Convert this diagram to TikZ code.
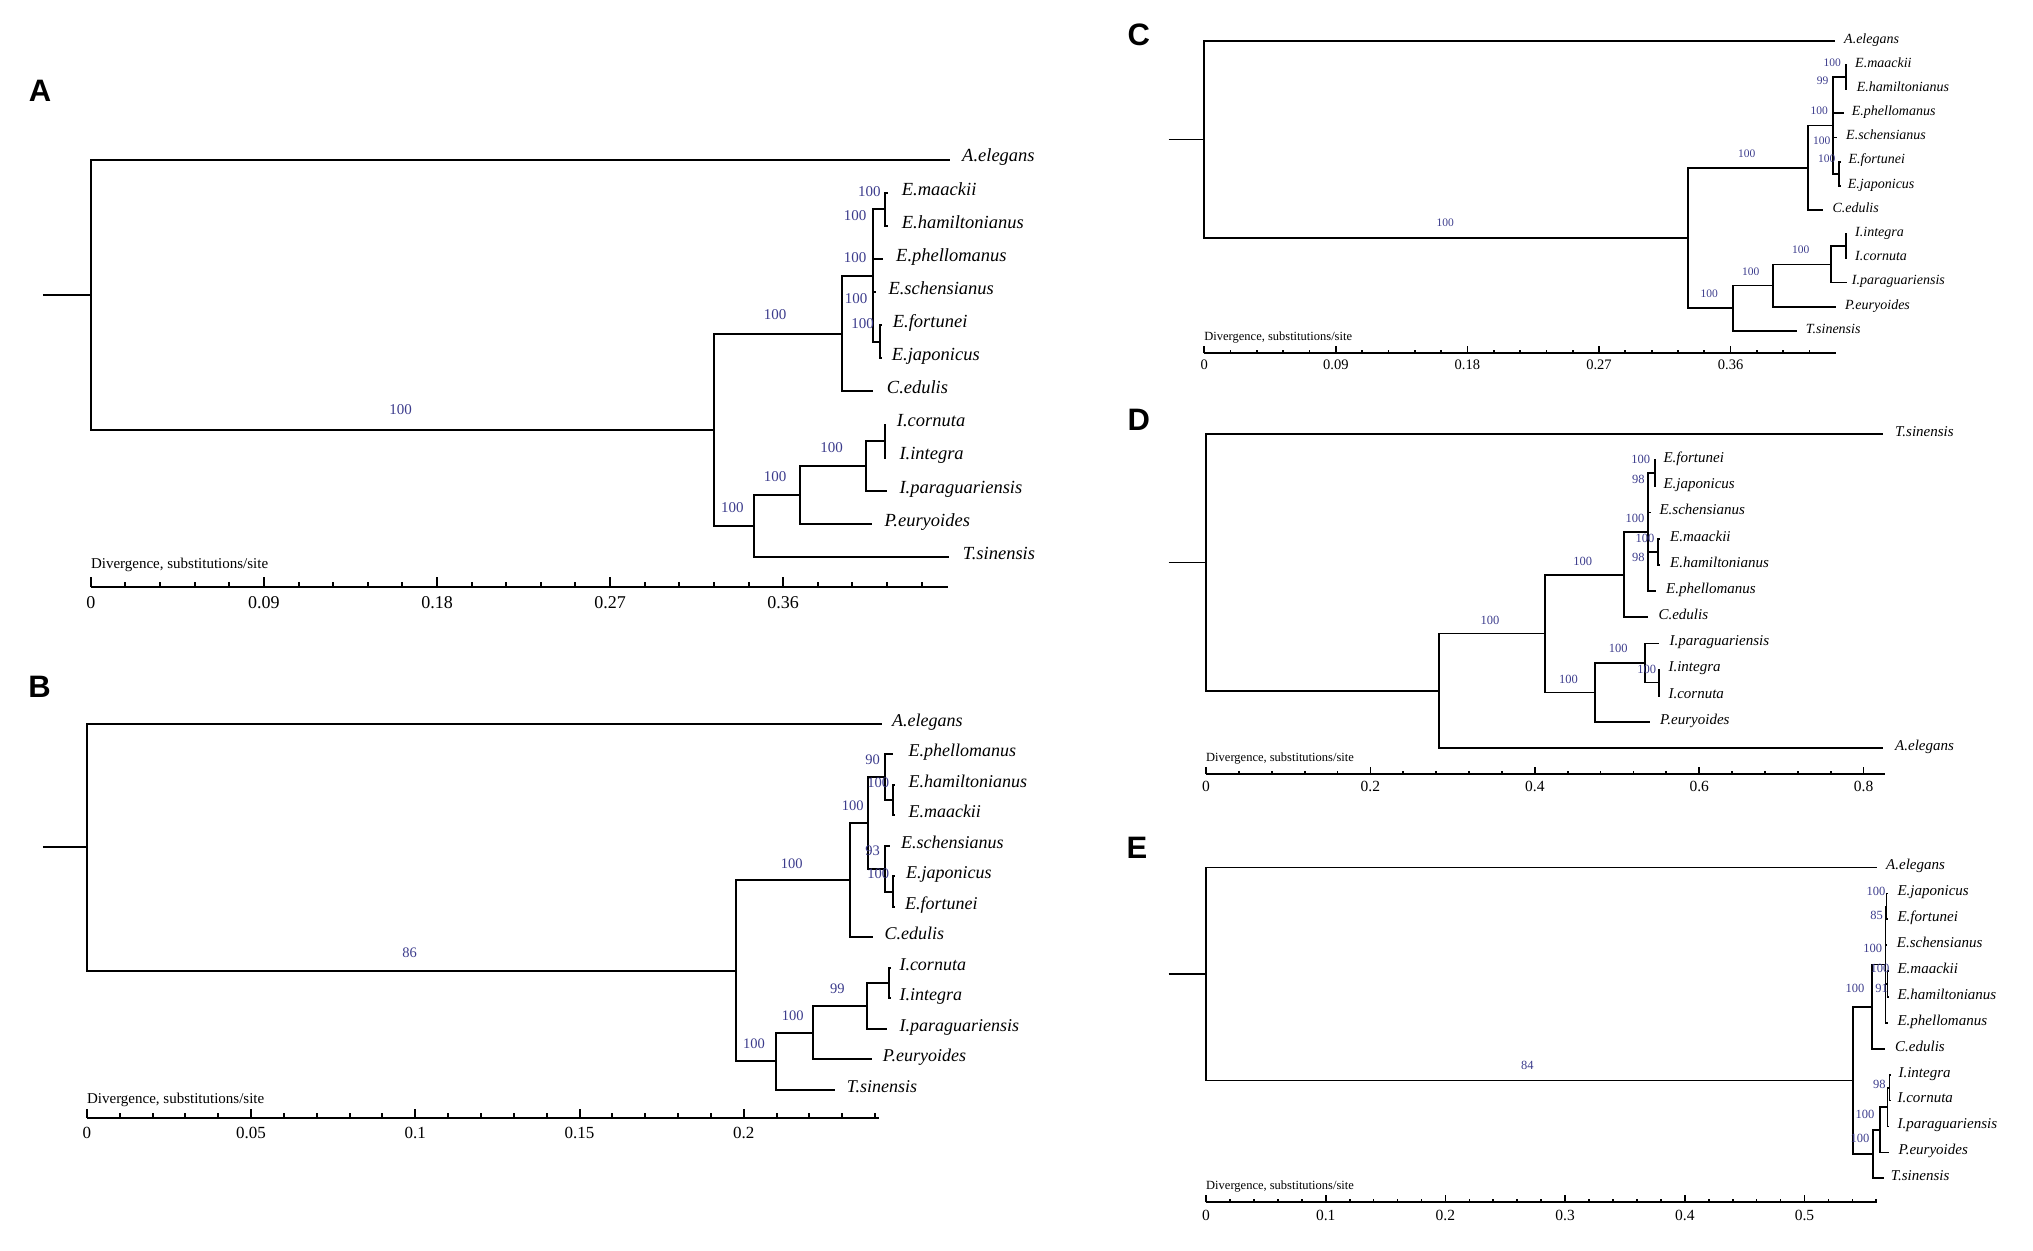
\documentclass[tikz,border=0pt]{standalone}
\usepackage{fontspec}
\setmainfont{Liberation Serif}
\newfontfamily\panelfont{Liberation Sans}
\definecolor{bsblue}{RGB}{60,60,140}
\newcommand{\tipnode}[6]{\coordinate (#1) at (#2,#3); \node[#6] (#1-l) at (#4,#3) {#5};}
\begin{document}
\begin{tikzpicture}[x=1pt,y=-1pt,
  panel/.style={font=\panelfont\bfseries\fontsize{31}{31}\selectfont, inner sep=0pt},
  brA/.style={line width=2pt},
  brC/.style={line width=1.7pt},
  tipA/.style={font=\fontsize{18.5}{20}\selectfont\itshape, anchor=mid west, inner sep=0pt},
  tipB/.style={font=\fontsize{18}{20}\selectfont\itshape, anchor=mid west, inner sep=0pt},
  tipC/.style={font=\fontsize{14}{16}\selectfont\itshape, anchor=mid west, inner sep=0pt},
  tipD/.style={font=\fontsize{15}{17}\selectfont\itshape, anchor=mid west, inner sep=0pt},
  bsA/.style={font=\fontsize{15}{16}\selectfont, text=bsblue, inner sep=0pt},
  bsB/.style={font=\fontsize{14.5}{16}\selectfont, text=bsblue, inner sep=0pt},
  bsC/.style={font=\fontsize{11.5}{13}\selectfont, text=bsblue, inner sep=0pt},
  bsD/.style={font=\fontsize{12.5}{14}\selectfont, text=bsblue, inner sep=0pt},
  axA/.style={font=\fontsize{15}{16}\selectfont, anchor=mid west, inner sep=0pt},
  axC/.style={font=\fontsize{12.5}{14}\selectfont, anchor=mid west, inner sep=0pt},
  tkA/.style={font=\fontsize{18}{20}\selectfont, inner sep=0pt},
  tkB/.style={font=\fontsize{17}{19}\selectfont, inner sep=0pt},
  tkC/.style={font=\fontsize{14.5}{16}\selectfont, inner sep=0pt},
  tkD/.style={font=\fontsize{15.5}{17}\selectfont, inner sep=0pt}]
\useasboundingbox (0,0) rectangle (2033,1250);

% ================= Panel A =================
\node[panel] (labA) at (40,91.3) {A};
\coordinate (A-S) at (42.8,294.7);
\coordinate (A-R) at (90.8,294.7);
\coordinate (A-N1) at (714,429.7);
\coordinate (A-N2) at (841.7,333.5);
\coordinate (A-E) at (872.7,275.55);
\coordinate (A-MH) at (885,209.35);
\coordinate (A-FJ) at (880,341.75);
\coordinate (A-N3) at (754,525.9);
\coordinate (A-N4) at (800,494.85);
\coordinate (A-N5) at (866,465.9);
\coordinate (A-N6) at (885,441.05);
\tipnode{A-t0}{950.4}{159.7}{962}{A.elegans}{tipA}
\tipnode{A-t1}{887.5}{192.8}{901.7}{E.maackii}{tipA}
\tipnode{A-t2}{887.5}{225.9}{901.7}{E.hamiltonianus}{tipA}
\tipnode{A-t3}{883.3}{259.0}{896}{E.phellomanus}{tipA}
\tipnode{A-t4}{875.5}{292.1}{888.3}{E.schensianus}{tipA}
\tipnode{A-t5}{881.5}{325.2}{892.7}{E.fortunei}{tipA}
\tipnode{A-t6}{881.5}{358.3}{891.7}{E.japonicus}{tipA}
\tipnode{A-t7}{873.3}{391.4}{886.7}{C.edulis}{tipA}
\tipnode{A-t8}{886}{424.5}{896.7}{I.cornuta}{tipA}
\tipnode{A-t9}{886}{457.6}{899.3}{I.integra}{tipA}
\tipnode{A-t10}{886.7}{490.7}{899.3}{I.paraguariensis}{tipA}
\tipnode{A-t11}{871.7}{523.8}{884.3}{P.euryoides}{tipA}
\tipnode{A-t12}{949.3}{556.9}{962.7}{T.sinensis}{tipA}
\draw[brA] (A-S) -- (A-R)
  (A-R) |- (A-t0) (A-R) |- (A-N1)
  (A-N1) |- (A-N2) (A-N1) |- (A-N3)
  (A-N2) |- (A-E) (A-N2) |- (A-t7)
  (A-E) |- (A-MH) (A-E) |- (A-t3) (A-E) |- (A-t4) (A-E) |- (A-FJ)
  (A-MH) |- (A-t1) (A-MH) |- (A-t2)
  (A-FJ) |- (A-t5) (A-FJ) |- (A-t6)
  (A-N3) |- (A-N4) (A-N3) |- (A-t12)
  (A-N4) |- (A-N5) (A-N4) |- (A-t11)
  (A-N5) |- (A-N6) (A-N5) |- (A-t10)
  (A-N6) |- (A-t8) (A-N6) |- (A-t9);
\node[bsA] (A-b1) at (400.6,409.7) {100};
\node[bsA] (A-b2) at (775,315) {100};
\node[bsA] (A-b3) at (869.3,191.7) {100};
\node[bsA] (A-b4) at (855,216) {100};
\node[bsA] (A-b5) at (855,257.3) {100};
\node[bsA] (A-b6) at (856,298.3) {100};
\node[bsA] (A-b7) at (862.7,324) {100};
\node[bsA] (A-b8) at (831.7,447.3) {100};
\node[bsA] (A-b9) at (775,476.7) {100};
\node[bsA] (A-b10) at (732.3,507.3) {100};
\node[axA] (A-dv) at (90.8,566.6) {Divergence, substitutions/site};
\coordinate (A-a0) at (90.8,587.4);
\coordinate (A-a1) at (948,587.4);
\draw[brA] (A-a0) -- (A-a1);
\foreach \i in {0,...,24}{\pgfmathsetmacro{\xx}{90.8+34.62*\i}\pgfmathsetmacro{\tl}{ifthenelse(mod(\i,5)==0,10,5)}\draw[brA] (\xx,587.4) -- ++(0,-\tl);}
\node[tkA] (A-x0) at (90.8,603) {0};
\node[tkA] (A-x1) at (263.9,603) {0.09};
\node[tkA] (A-x2) at (437,603) {0.18};
\node[tkA] (A-x3) at (610.1,603) {0.27};
\node[tkA] (A-x4) at (783.2,603) {0.36};

% ================= Panel B =================
\node[panel] (labB) at (39.5,687) {B};
\coordinate (B-S) at (42.8,847.2);
\coordinate (B-R) at (86.9,847.2);
\coordinate (B-N1) at (735.7,970.65);
\coordinate (B-N2) at (850,880.1);
\coordinate (B-E) at (867.7,822.9);
\coordinate (B-PHM) at (885,777.2);
\coordinate (B-HM) at (893.3,800.05);
\coordinate (B-SJF) at (885,868.7);
\coordinate (B-JF) at (893.3,891.55);
\coordinate (B-N3) at (776,1061.2);
\coordinate (B-N4) at (813.3,1032.6);
\coordinate (B-N5) at (866.7,1005.9);
\coordinate (B-N6) at (889.3,983.05);
\tipnode{B-t0}{881.7}{723.8}{892}{A.elegans}{tipB}
\tipnode{B-t1}{892.7}{754.3}{908.3}{E.phellomanus}{tipB}
\tipnode{B-t2}{895}{784.8}{908.3}{E.hamiltonianus}{tipB}
\tipnode{B-t3}{895}{815.3}{908.3}{E.maackii}{tipB}
\tipnode{B-t4}{890}{845.8}{901}{E.schensianus}{tipB}
\tipnode{B-t5}{895}{876.3}{906}{E.japonicus}{tipB}
\tipnode{B-t6}{895}{906.8}{905}{E.fortunei}{tipB}
\tipnode{B-t7}{873.3}{937.3}{884.3}{C.edulis}{tipB}
\tipnode{B-t8}{890.5}{967.8}{899.3}{I.cornuta}{tipB}
\tipnode{B-t9}{890.5}{998.3}{899.3}{I.integra}{tipB}
\tipnode{B-t10}{886.7}{1028.8}{899.3}{I.paraguariensis}{tipB}
\tipnode{B-t11}{871.7}{1059.3}{882.7}{P.euryoides}{tipB}
\tipnode{B-t12}{835}{1089.8}{846.7}{T.sinensis}{tipB}
\draw[brA] (B-S) -- (B-R)
  (B-R) |- (B-t0) (B-R) |- (B-N1)
  (B-N1) |- (B-N2) (B-N1) |- (B-N3)
  (B-N2) |- (B-E) (B-N2) |- (B-t7)
  (B-E) |- (B-PHM) (B-E) |- (B-SJF)
  (B-PHM) |- (B-t1) (B-PHM) |- (B-HM)
  (B-HM) |- (B-t2) (B-HM) |- (B-t3)
  (B-SJF) |- (B-t4) (B-SJF) |- (B-JF)
  (B-JF) |- (B-t5) (B-JF) |- (B-t6)
  (B-N3) |- (B-N4) (B-N3) |- (B-t12)
  (B-N4) |- (B-N5) (B-N4) |- (B-t11)
  (B-N5) |- (B-N6) (B-N5) |- (B-t10)
  (B-N6) |- (B-t8) (B-N6) |- (B-t9);
\node[bsB] (B-b1) at (409.7,953) {86};
\node[bsB] (B-b2) at (791.7,863.3) {100};
\node[bsB] (B-b3) at (872.7,760) {90};
\node[bsB] (B-b4) at (878.3,782.7) {100};
\node[bsB] (B-b5) at (852.7,806) {100};
\node[bsB] (B-b6) at (872.7,850.7) {93};
\node[bsB] (B-b7) at (878.3,874) {100};
\node[bsB] (B-b8) at (837.3,988.3) {99};
\node[bsB] (B-b9) at (792.7,1016) {100};
\node[bsB] (B-b10) at (754,1043.3) {100};
\node[axA] (B-dv) at (86.9,1101.5) {Divergence, substitutions/site};
\coordinate (B-a0) at (86.9,1117.7);
\coordinate (B-a1) at (879,1117.7);
\draw[brA] (B-a0) -- (B-a1);
\foreach \i in {0,...,24}{\pgfmathsetmacro{\xx}{86.9+32.84*\i}\pgfmathsetmacro{\tl}{ifthenelse(mod(\i,5)==0,9,4.5)}\draw[brA] (\xx,1117.7) -- ++(0,-\tl);}
\node[tkB] (B-x0) at (86.9,1133) {0};
\node[tkB] (B-x1) at (251.1,1133) {0.05};
\node[tkB] (B-x2) at (415.3,1133) {0.1};
\node[tkB] (B-x3) at (579.5,1133) {0.15};
\node[tkB] (B-x4) at (743.7,1133) {0.2};

% ================= Panel C =================
\node[panel] (labC) at (1138.8,34.7) {C};
\coordinate (C-S) at (1168.5,139.4);
\coordinate (C-R) at (1204.2,139.4);
\coordinate (C-N1) at (1688.3,238.05);
\coordinate (C-N2) at (1808.3,167.8);
\coordinate (C-E) at (1833.3,125.45);
\coordinate (C-MH) at (1845.7,77.1);
\coordinate (C-FJ) at (1839,173.8);
\coordinate (C-N3) at (1732.7,308.3);
\coordinate (C-N4) at (1772.7,285.6);
\coordinate (C-N5) at (1831,264.45);
\coordinate (C-N6) at (1846,246.3);
\tipnode{C-t0}{1835}{40.8}{1844}{A.elegans}{tipC}
\tipnode{C-t1}{1847}{65}{1855}{E.maackii}{tipC}
\tipnode{C-t2}{1847}{89.2}{1856.7}{E.hamiltonianus}{tipC}
\tipnode{C-t3}{1844.3}{113.3}{1851.7}{E.phellomanus}{tipC}
\tipnode{C-t4}{1836.5}{137.5}{1846}{E.schensianus}{tipC}
\tipnode{C-t5}{1840.5}{161.7}{1848.3}{E.fortunei}{tipC}
\tipnode{C-t6}{1840.5}{185.9}{1847.7}{E.japonicus}{tipC}
\tipnode{C-t7}{1822.7}{210.1}{1832.3}{C.edulis}{tipC}
\tipnode{C-t8}{1847}{234.2}{1855}{I.integra}{tipC}
\tipnode{C-t9}{1847}{258.4}{1855}{I.cornuta}{tipC}
\tipnode{C-t10}{1846.7}{282.6}{1851.7}{I.paraguariensis}{tipC}
\tipnode{C-t11}{1836}{306.8}{1845}{P.euryoides}{tipC}
\tipnode{C-t12}{1796.7}{331}{1805.7}{T.sinensis}{tipC}
\draw[brC] (C-S) -- (C-R)
  (C-R) |- (C-t0) (C-R) |- (C-N1)
  (C-N1) |- (C-N2) (C-N1) |- (C-N3)
  (C-N2) |- (C-E) (C-N2) |- (C-t7)
  (C-E) |- (C-MH) (C-E) |- (C-t3) (C-E) |- (C-t4) (C-E) |- (C-FJ)
  (C-MH) |- (C-t1) (C-MH) |- (C-t2)
  (C-FJ) |- (C-t5) (C-FJ) |- (C-t6)
  (C-N3) |- (C-N4) (C-N3) |- (C-t12)
  (C-N4) |- (C-N5) (C-N4) |- (C-t11)
  (C-N5) |- (C-N6) (C-N5) |- (C-t10)
  (C-N6) |- (C-t8) (C-N6) |- (C-t9);
\node[bsC] (C-b1) at (1445.2,222.7) {100};
\node[bsC] (C-b2) at (1746.7,153.3) {100};
\node[bsC] (C-b3) at (1832.3,62.7) {100};
\node[bsC] (C-b4) at (1822.7,80.7) {99};
\node[bsC] (C-b5) at (1819.3,111) {100};
\node[bsC] (C-b6) at (1821.7,140.7) {100};
\node[bsC] (C-b7) at (1826.7,159) {100};
\node[bsC] (C-b8) at (1800.7,250) {100};
\node[bsC] (C-b9) at (1750.7,271.7) {100};
\node[bsC] (C-b10) at (1709.3,294) {100};
\node[axC] (C-dv) at (1204.2,338.3) {Divergence, substitutions/site};
\coordinate (C-a0) at (1204.2,353.3);
\coordinate (C-a1) at (1835.7,353.3);
\draw[brC] (C-a0) -- (C-a1);
\foreach \i in {0,...,23}{\pgfmathsetmacro{\xx}{1204.2+26.32*\i}\pgfmathsetmacro{\tl}{ifthenelse(mod(\i,5)==0,7.5,3.5)}\draw[brC] (\xx,353.3) -- ++(0,-\tl);}
\node[tkC] (C-x0) at (1204.2,365) {0};
\node[tkC] (C-x1) at (1335.8,365) {0.09};
\node[tkC] (C-x2) at (1467.4,365) {0.18};
\node[tkC] (C-x3) at (1599,365) {0.27};
\node[tkC] (C-x4) at (1730.6,365) {0.36};

% ================= Panel D =================
\node[panel] (labD) at (1138.7,420) {D};
\coordinate (D-S) at (1168.5,562.4);
\coordinate (D-R) at (1206,562.4);
\coordinate (D-NA) at (1439.3,690.8);
\coordinate (D-NB) at (1545.2,633.55);
\coordinate (D-N2) at (1624,574.65);
\coordinate (D-E) at (1648.3,532.1);
\coordinate (D-FJ) at (1655,473.25);
\coordinate (D-MH) at (1658.3,551.8);
\coordinate (D-NI) at (1595,692.45);
\coordinate (D-I) at (1645,663);
\coordinate (D-IC) at (1659.3,682.6);
\tipnode{D-t0}{1883.3}{434}{1895}{T.sinensis}{tipD}
\tipnode{D-t1}{1656}{460.2}{1663.3}{E.fortunei}{tipD}
\tipnode{D-t2}{1656}{486.3}{1663.3}{E.japonicus}{tipD}
\tipnode{D-t3}{1651}{512.5}{1659.3}{E.schensianus}{tipD}
\tipnode{D-t4}{1659.5}{538.7}{1670}{E.maackii}{tipD}
\tipnode{D-t5}{1659.5}{564.9}{1670}{E.hamiltonianus}{tipD}
\tipnode{D-t6}{1656}{591}{1666}{E.phellomanus}{tipD}
\tipnode{D-t7}{1648.3}{617.2}{1658.3}{C.edulis}{tipD}
\tipnode{D-t8}{1659.3}{643.4}{1669.3}{I.paraguariensis}{tipD}
\tipnode{D-t9}{1660}{669.5}{1668.3}{I.integra}{tipD}
\tipnode{D-t10}{1660}{695.7}{1668.3}{I.cornuta}{tipD}
\tipnode{D-t11}{1650}{721.9}{1660}{P.euryoides}{tipD}
\tipnode{D-t12}{1883}{748}{1895}{A.elegans}{tipD}
\draw[brC] (D-S) -- (D-R)
  (D-R) |- (D-t0) (D-R) |- (D-NA)
  (D-NA) |- (D-NB) (D-NA) |- (D-t12)
  (D-NB) |- (D-N2) (D-NB) |- (D-NI)
  (D-N2) |- (D-E) (D-N2) |- (D-t7)
  (D-E) |- (D-FJ) (D-E) |- (D-t3) (D-E) |- (D-MH) (D-E) |- (D-t6)
  (D-FJ) |- (D-t1) (D-FJ) |- (D-t2)
  (D-MH) |- (D-t4) (D-MH) |- (D-t5)
  (D-NI) |- (D-I) (D-NI) |- (D-t11)
  (D-I) |- (D-t8) (D-I) |- (D-IC)
  (D-IC) |- (D-t9) (D-IC) |- (D-t10);
\node[bsD] (D-b1) at (1489.9,620) {100};
\node[bsD] (D-b2) at (1582.7,561) {100};
\node[bsD] (D-b3) at (1640.7,459.3) {100};
\node[bsD] (D-b4) at (1638.3,479.3) {98};
\node[bsD] (D-b5) at (1635,518.3) {100};
\node[bsD] (D-b6) at (1645,538.3) {100};
\node[bsD] (D-b7) at (1638.3,557.3) {98};
\node[bsD] (D-b8) at (1618.3,648.3) {100};
\node[bsD] (D-b9) at (1646.7,669.3) {100};
\node[bsD] (D-b10) at (1568.4,679.3) {100};
\node[axC] (D-dv) at (1206,759.3) {Divergence, substitutions/site};
\coordinate (D-a0) at (1206,774);
\coordinate (D-a1) at (1884.5,774);
\draw[brC] (D-a0) -- (D-a1);
\foreach \i in {0,...,20}{\pgfmathsetmacro{\xx}{1206+32.88*\i}\pgfmathsetmacro{\tl}{ifthenelse(mod(\i,5)==0,7.5,3.5)}\draw[brC] (\xx,774) -- ++(0,-\tl);}
\node[tkD] (D-x0) at (1206,786.7) {0};
\node[tkD] (D-x1) at (1370.4,786.7) {0.2};
\node[tkD] (D-x2) at (1534.8,786.7) {0.4};
\node[tkD] (D-x3) at (1699.2,786.7) {0.6};
\node[tkD] (D-x4) at (1863.6,786.7) {0.8};

% ================= Panel E =================
\node[panel] (labE) at (1137,848.3) {E};
\coordinate (E-S) at (1168.5,973.9);
\coordinate (E-R) at (1206,973.9);
\coordinate (E-N1) at (1853,1080.35);
\coordinate (E-N2) at (1871.7,1006.7);
\coordinate (E-E) at (1885.5,964.6);
\coordinate (E-JF) at (1886.5,906.35);
\coordinate (E-MH) at (1887.5,984.05);
\coordinate (E-N3) at (1872.7,1154);
\coordinate (E-N4) at (1880,1129.75);
\coordinate (E-I) at (1887.5,1107.1);
\coordinate (E-IC) at (1889.5,1087.65);
\tipnode{E-t0}{1876.8}{867.5}{1886}{A.elegans}{tipD}
\tipnode{E-t1}{1887.5}{893.4}{1897.3}{E.japonicus}{tipD}
\tipnode{E-t2}{1887.5}{919.3}{1897.3}{E.fortunei}{tipD}
\tipnode{E-t3}{1887}{945.2}{1896.7}{E.schensianus}{tipD}
\tipnode{E-t4}{1888.5}{971.1}{1897.3}{E.maackii}{tipD}
\tipnode{E-t5}{1888.5}{997}{1897.3}{E.hamiltonianus}{tipD}
\tipnode{E-t6}{1888}{1022.9}{1897.3}{E.phellomanus}{tipD}
\tipnode{E-t7}{1885}{1048.8}{1895}{C.edulis}{tipD}
\tipnode{E-t8}{1890.5}{1074.7}{1898.3}{I.integra}{tipD}
\tipnode{E-t9}{1890.5}{1100.6}{1897.3}{I.cornuta}{tipD}
\tipnode{E-t10}{1889}{1126.5}{1897.3}{I.paraguariensis}{tipD}
\tipnode{E-t11}{1888.5}{1152.4}{1898.3}{P.euryoides}{tipD}
\tipnode{E-t12}{1884}{1178.3}{1890.7}{T.sinensis}{tipD}
\draw[brC] (E-S) -- (E-R)
  (E-R) |- (E-t0) (E-R) |- (E-N1)
  (E-N1) |- (E-N2) (E-N1) |- (E-N3)
  (E-N2) |- (E-E) (E-N2) |- (E-t7)
  (E-E) |- (E-JF) (E-E) |- (E-t3) (E-E) |- (E-MH) (E-E) |- (E-t6)
  (E-JF) |- (E-t1) (E-JF) |- (E-t2)
  (E-MH) |- (E-t4) (E-MH) |- (E-t5)
  (E-N3) |- (E-N4) (E-N3) |- (E-t12)
  (E-N4) |- (E-I) (E-N4) |- (E-t11)
  (E-I) |- (E-IC) (E-I) |- (E-t10)
  (E-IC) |- (E-t8) (E-IC) |- (E-t9);
\node[bsD] (E-b1) at (1527.4,1065) {84};
\node[bsD] (E-b2) at (1876,891.7) {100};
\node[bsD] (E-b3) at (1876.7,915) {85};
\node[bsD] (E-b4) at (1872.7,948.3) {100};
\node[bsD] (E-b5) at (1880,968.3) {100};
\node[bsD] (E-b6) at (1881.7,988.3) {91};
\node[bsD] (E-b7) at (1855,988.3) {100};
\node[bsD] (E-b8) at (1879.3,1084) {98};
\node[bsD] (E-b9) at (1865,1114) {100};
\node[bsD] (E-b10) at (1860,1138.3) {100};
\node[axC] (E-dv) at (1206,1186.7) {Divergence, substitutions/site};
\coordinate (E-a0) at (1206,1202.3);
\coordinate (E-a1) at (1876.8,1202.3);
\draw[brC] (E-a0) -- (E-a1);
\foreach \i in {0,...,28}{\pgfmathsetmacro{\xx}{1206+23.94*\i}\pgfmathsetmacro{\tl}{ifthenelse(mod(\i,5)==0,7.5,3.5)}\draw[brC] (\xx,1202.3) -- ++(0,-\tl);}
\node[tkD] (E-x0) at (1206,1215) {0};
\node[tkD] (E-x1) at (1325.7,1215) {0.1};
\node[tkD] (E-x2) at (1445.4,1215) {0.2};
\node[tkD] (E-x3) at (1565.1,1215) {0.3};
\node[tkD] (E-x4) at (1684.8,1215) {0.4};
\node[tkD] (E-x5) at (1804.5,1215) {0.5};
\end{tikzpicture}
\end{document}
